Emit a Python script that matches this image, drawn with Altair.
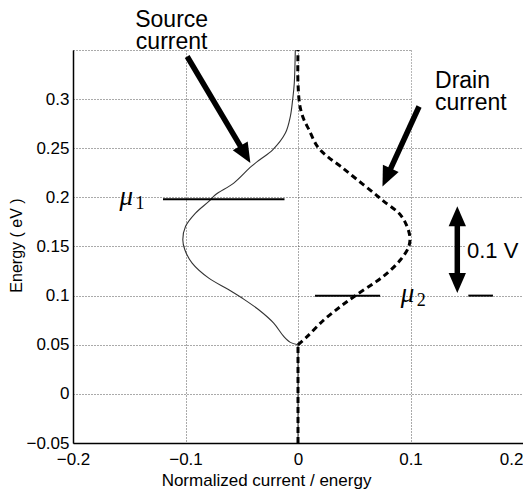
import math
import altair as alt
import pandas as pd

# ---------------- data ----------------
source_energy = [-0.05, 0.05, 0.0524, 0.0585, 0.072, 0.0856, 0.0975, 0.106, 0.1178, 0.1331,
                 0.1467, 0.1568, 0.1704, 0.184, 0.1959, 0.2027, 0.2145, 0.2315, 0.2383, 0.2484,
                 0.2654, 0.2824, 0.30, 0.3163, 0.35]
source_current = [0.0, 0.0, -0.0068, -0.0127, -0.0216, -0.0349, -0.0497, -0.0615, -0.0793, -0.0941,
                  -0.1006, -0.1024, -0.1, -0.0911, -0.0793, -0.0734, -0.0571, -0.0415, -0.034, -0.0225,
                  -0.0112, -0.0068, -0.0047, -0.0033, -0.0024]

drain_energy = [-0.05, 0.05, 0.0585, 0.0754, 0.089, 0.1002, 0.1127, 0.1229, 0.1365, 0.15,
                0.1602, 0.1738, 0.184, 0.1959, 0.2043, 0.2179, 0.2315, 0.2417, 0.2518, 0.2688,
                0.279, 0.2925, 0.316, 0.35]
drain_current = [0.0, 0.0, 0.0083, 0.0231, 0.0379, 0.0512, 0.0675, 0.0793, 0.0911, 0.0985,
                 0.0994, 0.0956, 0.0896, 0.0763, 0.0675, 0.0527, 0.0379, 0.026, 0.0172, 0.0098,
                 0.0053, 0.0018, 0.0, 0.0]

mu_level_y = [0.198, 0.1, 0.1]
mu_level_x1 = [-0.12, 0.0151, 0.1514]
mu_level_x2 = [-0.012, 0.073, 0.1733]

mu_label_x = [-0.1586, 0.0914]
mu_label_y = [0.198, 0.1]
mu_label_sub = ["1", "2"]

arrow_x_start = [-0.0985, 0.1076]
arrow_y_start = [0.3434, 0.2925]
arrow_x_tip = [-0.0423, 0.0751]
arrow_y_tip = [0.2349, 0.2111]

bias_arrow_x = 0.1416
bias_arrow_y = [0.1027, 0.1909]

note_text = ["Source", "current", "Drain", "current"]
note_x = [-0.1123, -0.1123, 0.1218, 0.1218]
note_y = [0.3734, 0.3515, 0.311, 0.289]
note_align = ["center", "center", "left", "left"]

bias_text = ["0.1 V"]
bias_text_x = [0.1502]
bias_text_y = [0.138]

# white boxes behind the annotation texts (hide grid there)
mask_x1 = [0.1012, 0.1485]
mask_x2 = [0.206, 0.206]
mask_y1 = [0.2533, 0.128]
mask_y2 = [0.36, 0.167]

x_ticks = [-0.2, -0.1, 0, 0.1, 0.2]
y_ticks = [-0.05, 0, 0.05, 0.1, 0.15, 0.2, 0.25, 0.3, 0.35]

# ---------------- layout ----------------
W, H = 450, 393
XDOM = [-0.2, 0.2]
YDOM = [-0.05, 0.35]
PX_X = W / (XDOM[1] - XDOM[0])
PX_Y = H / (YDOM[1] - YDOM[0])
FONT = "Liberation Sans"
SERIF = "Liberation Serif"
HEAD_BACK = 13  # px the shaft stops before the tip

xs = alt.Scale(domain=XDOM, nice=False, zero=False)
ys = alt.Scale(domain=YDOM, nice=False, zero=False)

x_axis = alt.Axis(
    values=x_ticks, format="~g", grid=True, gridDash=[1, 2], gridColor="#555",
    domainColor="black", domainWidth=1.5, ticks=False, labelFlush=False,
    labelAlign={"condition": {"test": "datum.value > 0.19", "value": "right"}, "value": "center"},
    labelFont=FONT, labelFontSize=17, labelColor="black", labelPadding=8,
    title="Normalized current / energy", titleFont=FONT, titleFontSize=17,
    titleFontWeight="normal", titleColor="black", titleX=193, titleY=42,
    titleBaseline="alphabetic", titleAlign="center",
)
y_axis = alt.Axis(
    values=y_ticks, format="~g", grid=True, gridDash=[1, 2], gridColor="#555",
    domainColor="black", domainWidth=1.5, ticks=False,
    labelExpr="datum.value > 0.34 ? '' : datum.label",
    labelFont=FONT, labelFontSize=17, labelColor="black", labelPadding=4,
    title="Energy ( eV )", titleFont=FONT, titleFontSize=16, titleFontWeight="normal",
    titleColor="black", titleX=-52, titleY=195, titleBaseline="alphabetic",
    titleAlign="center", titleAngle=270,
)


def X(field):
    return alt.X(field, scale=xs, axis=x_axis)


def Y(field):
    return alt.Y(field, scale=ys, axis=y_axis)


def series_df(energy, current):
    return pd.DataFrame({"idx": list(range(len(energy))), "energy": energy, "current": current})


src_df = series_df(source_energy, source_current)
drn_df = series_df(drain_energy, drain_current)

# stem (energy <= 0.05, straight) and curve (energy >= 0.05, smooth)
source_stem = alt.Chart(src_df[src_df.energy <= 0.05]).mark_line(
    color="#333", strokeWidth=1.1
).encode(x=X("current:Q"), y=Y("energy:Q"), order="idx:Q")
source_line = alt.Chart(src_df[src_df.energy >= 0.05]).mark_line(
    color="#333", strokeWidth=1.1, interpolate="catmull-rom"
).encode(x=X("current:Q"), y=Y("energy:Q"), order="idx:Q")

drain_stem = alt.Chart(drn_df[drn_df.energy <= 0.05]).mark_line(
    color="black", strokeWidth=3, strokeDash=[6, 4]
).encode(x=X("current:Q"), y=Y("energy:Q"), order="idx:Q")
drain_line = alt.Chart(drn_df[drn_df.energy >= 0.05]).mark_line(
    color="black", strokeWidth=3, strokeDash=[6, 4], interpolate="catmull-rom"
).encode(x=X("current:Q"), y=Y("energy:Q"), order="idx:Q")

masks = alt.Chart(pd.DataFrame({"x1": mask_x1, "x2": mask_x2, "y1": mask_y1, "y2": mask_y2})).mark_rect(
    color="white"
).encode(x=X("x1:Q"), x2="x2:Q", y=Y("y1:Q"), y2="y2:Q")

levels = alt.Chart(pd.DataFrame({"x1": mu_level_x1, "x2": mu_level_x2, "y": mu_level_y})).mark_rule(
    color="black", strokeWidth=2
).encode(x=X("x1:Q"), x2="x2:Q", y=Y("y:Q"))

mu_df = pd.DataFrame({"x": mu_label_x, "y": mu_label_y, "sub": mu_label_sub, "mu": ["μ", "μ"]})
mu_text = alt.Chart(mu_df).mark_text(
    font=SERIF, fontStyle="italic", fontSize=27, align="left", baseline="alphabetic", dy=6, color="black"
).encode(x=X("x:Q"), y=Y("y:Q"), text="mu:N")
mu_sub = alt.Chart(mu_df).mark_text(
    font=SERIF, fontSize=18, align="left", baseline="alphabetic", dx=16, dy=10, color="black"
).encode(x=X("x:Q"), y=Y("y:Q"), text="sub:N")

# arrows: shafts and heads
shaft_rows, head_rows = [], []
for x0, y0, x1, y1 in zip(arrow_x_start, arrow_y_start, arrow_x_tip, arrow_y_tip):
    dxs = (x1 - x0) * PX_X
    dys = -(y1 - y0) * PX_Y
    L = math.hypot(dxs, dys)
    f = HEAD_BACK / L
    shaft_rows.append({"x": x0, "y": y0, "x2": x1 + (x0 - x1) * f, "y2": y1 + (y0 - y1) * f})
    head_rows.append({"x": x1, "y": y1, "angle": math.degrees(math.atan2(dxs, -dys)) % 360})
yb, yt = bias_arrow_y
shaft_rows.append({"x": bias_arrow_x, "y": yb + HEAD_BACK / PX_Y, "x2": bias_arrow_x, "y2": yt - HEAD_BACK / PX_Y})
head_rows.append({"x": bias_arrow_x, "y": yt, "angle": 0})
head_rows.append({"x": bias_arrow_x, "y": yb, "angle": 180})

shafts = alt.Chart(pd.DataFrame(shaft_rows)).mark_rule(
    color="black", strokeWidth=5.5, strokeCap="butt"
).encode(x=X("x:Q"), y=Y("y:Q"), x2="x2:Q", y2="y2:Q")
heads = alt.Chart(pd.DataFrame(head_rows)).mark_point(
    shape="M0,0L-1,2.3L1,2.3Z", filled=True, color="black", opacity=1, size=300, strokeWidth=0
).encode(x=X("x:Q"), y=Y("y:Q"), angle=alt.Angle("angle:Q", scale=None))

notes_df = pd.DataFrame({"t": note_text, "x": note_x, "y": note_y, "a": note_align})
notes_c = alt.Chart(notes_df[notes_df.a == "center"]).mark_text(
    font=FONT, fontSize=23, align="center", baseline="alphabetic", color="black"
).encode(x=X("x:Q"), y=Y("y:Q"), text="t:N")
notes_l = alt.Chart(notes_df[notes_df.a == "left"]).mark_text(
    font=FONT, fontSize=23, align="left", baseline="alphabetic", color="black"
).encode(x=X("x:Q"), y=Y("y:Q"), text="t:N")
notes_v = alt.Chart(pd.DataFrame({"t": bias_text, "x": bias_text_x, "y": bias_text_y})).mark_text(
    font=FONT, fontSize=22, align="left", baseline="alphabetic", color="black"
).encode(x=X("x:Q"), y=Y("y:Q"), text="t:N")

chart = alt.layer(
    masks, source_stem, source_line, drain_stem, drain_line, levels, mu_text, mu_sub,
    shafts, heads, notes_c, notes_l, notes_v
).properties(
    width=W, height=H,
    autosize=alt.AutoSizeParams(type="none"),
    padding={"left": 65, "top": 42, "right": 0, "bottom": 48},
    background="white",
).configure_view(stroke=None)

chart.save("out.html", embed_options={"renderer": "svg", "actions": False})
